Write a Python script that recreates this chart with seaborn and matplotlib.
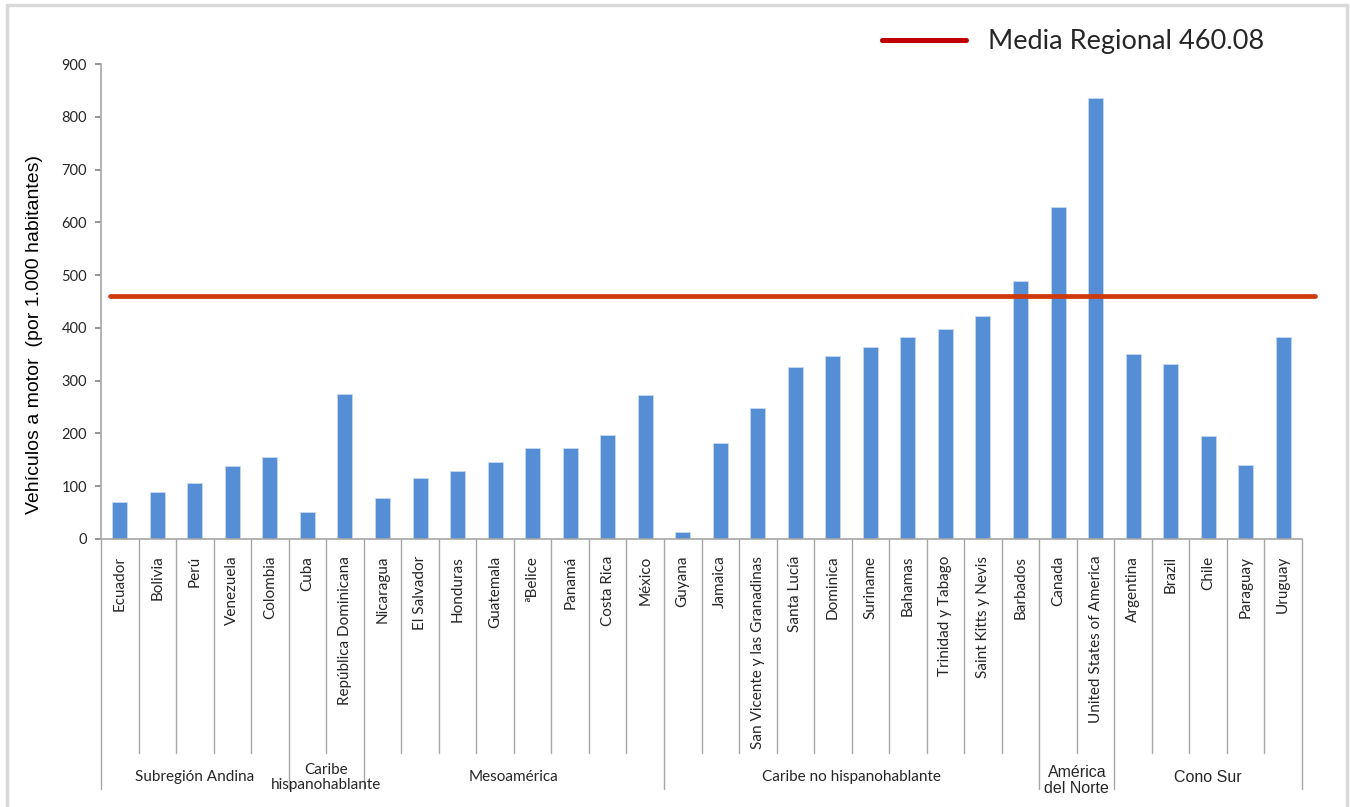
import pandas as pd
import seaborn as sns
from matplotlib import pyplot as plt
from matplotlib.lines import Line2D
from matplotlib.transforms import blended_transform_factory

# Datos
countries = ["Ecuador", "Bolivia", "Perú", "Venezuela", "Colombia",
             "Cuba", "República Dominicana",
             "Nicaragua", "El Salvador", "Honduras", "Guatemala", "ªBelice",
             "Panamá", "Costa Rica", "México",
             "Guyana", "Jamaica", "San Vicente y las Granadinas", "Santa Lucía",
             "Dominica", "Suriname", "Bahamas", "Trinidad y Tabago",
             "Saint Kitts y Nevis", "Barbados",
             "Canada", "United States of America",
             "Argentina", "Brazil", "Chile", "Paraguay", "Uruguay"]
values = [71, 90, 107, 138, 155,
          52, 274,
          77, 115, 128, 146, 173, 173, 198, 272,
          14, 182, 248, 325, 347, 363, 382, 398, 423, 489,
          629, 835,
          350, 331, 196, 141, 382]
group_names = ["Subregión Andina", "Caribe\nhispanohablante", "Mesoamérica",
               "Caribe no hispanohablante", "América\ndel Norte", "Cono Sur"]
group_sizes = [5, 2, 8, 10, 2, 5]
media_regional = 460.08

df = pd.DataFrame({"pais": countries, "vehiculos": values})

sns.set_theme(style="white")
plt.rcParams["font.family"] = ["Lato", "DejaVu Sans"]
narrow = ["Liberation Sans Narrow", "Liberation Sans", "DejaVu Sans"]

fig = plt.figure(figsize=(13.5, 8.07), dpi=100)
ax = fig.add_axes([101 / 1350, 1 - 539 / 807, 1201 / 1350, 475 / 807])

sns.barplot(data=df, x="pais", y="vehiculos", order=countries, color="#558ED5",
            width=0.4, saturation=1, edgecolor="#C6D9F1", linewidth=0.6, ax=ax)

# linea de la media regional
ax.axhline(media_regional, xmin=0.0075, xmax=1.011, color="#D0390B", lw=3.4,
           clip_on=False, zorder=3)

ax.set_ylim(0, 900)
ax.set_xlim(-0.5, len(countries) - 0.5)
ax.set_yticks(range(0, 901, 100))
ax.tick_params(axis="y", labelsize=10.5, labelcolor="#262626", direction="out",
               length=4, color="#868686", left=True, pad=6)
ax.tick_params(axis="x", labelsize=11, labelcolor="#262626", direction="in",
               length=3, color="#A6A6A6", bottom=True, pad=12)
ax.set_xticks(range(len(countries)))
ax.set_xticklabels(countries, rotation=90, va="top", ha="center")

for side in ["top", "right"]:
    ax.spines[side].set_visible(False)
for side in ["left", "bottom"]:
    ax.spines[side].set_color("#A6A6A6")
    ax.spines[side].set_linewidth(1.2)

ax.set_xlabel("")
ax.set_ylabel("Vehículos a motor  (por 1.000 habitantes)", fontsize=14,
              family=narrow, color="#000000")
ax.yaxis.set_label_coords(-0.048, 0.43)

# separadores del eje de categorias (dos niveles, estilo Excel)
trans = blended_transform_factory(ax.transData, ax.transAxes)
boundaries = [-0.5]
for size in group_sizes:
    boundaries.append(boundaries[-1] + size)
for i in range(1, len(countries)):
    b = i - 0.5
    if b in boundaries:
        continue
    ax.add_line(Line2D([b, b], [0, -0.45], transform=trans, color="#A6A6A6",
                       lw=1, clip_on=False))
for b in boundaries:
    ax.add_line(Line2D([b, b], [0, -0.527], transform=trans, color="#A6A6A6",
                       lw=1, clip_on=False))

for k, name in enumerate(group_names):
    center = (boundaries[k] + boundaries[k + 1]) / 2
    fam = narrow if name in ["América\ndel Norte", "Cono Sur"] else ["Lato", "DejaVu Sans"]
    y = -0.502
    if name == "América\ndel Norte":
        y = -0.509
    ax.text(center, y, name, transform=trans, ha="center", va="center",
            fontsize=11.5 if fam == narrow else 11, family=fam, color="#262626",
            linespacing=1.05)

# leyenda
handle = Line2D([], [], color="#C00000", lw=3.6)
ax.legend(handles=[handle], labels=["Media Regional 460.08"], frameon=False,
          fontsize=19.5, handlelength=3.1, handletextpad=0.8, borderpad=0,
          borderaxespad=0, loc="center left",
          bbox_to_anchor=(882 / 1350, 1 - 42 / 807),
          bbox_transform=fig.transFigure)

# borde del area del grafico
border = dict(color="#D9D9D9", lw=2.5, transform=fig.transFigure)
fig.add_artist(Line2D([7 / 1350, 7 / 1350], [0, 1 - 5 / 807], **border))
fig.add_artist(Line2D([7 / 1350, 1347 / 1350], [1 - 5 / 807, 1 - 5 / 807], **border))
fig.add_artist(Line2D([1347 / 1350, 1347 / 1350], [0, 1 - 5 / 807], **border))

fig.savefig("out.png", dpi=100)
